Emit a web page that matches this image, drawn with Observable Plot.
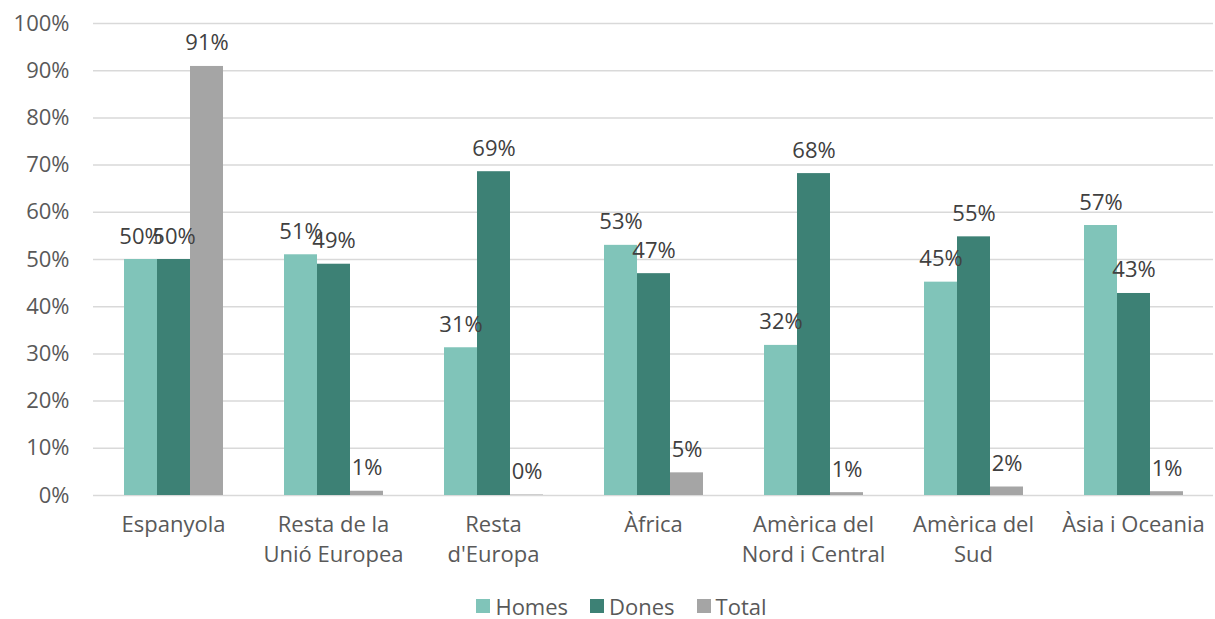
<!DOCTYPE html>
<html>
<head>
<meta charset="utf-8">
<script src="https://cdn.jsdelivr.net/npm/d3@7"></script>
<script src="https://cdn.jsdelivr.net/npm/@observablehq/plot@0.6"></script>
<style>
  html, body { margin: 0; padding: 0; background: #fff; }
  body { width: 1215px; height: 619px; overflow: hidden; font-family: "Open Sans", Lato, sans-serif; }
  #legend { display: flex; justify-content: center; gap: 22px; font-size: 22px; color: #595959; margin-top: 6px; padding-left: 28px; }
  #legend span.item { display: inline-flex; align-items: center; }
  #legend span.sw { display: inline-block; width: 14px; height: 14px; margin-right: 5px; }
</style>
</head>
<body>
<div id="chart"></div>
<div id="legend"></div>
<script>
const categories = ["Espanyola", "Resta de la\nUnió Europea", "Resta\nd'Europa", "Àfrica", "Amèrica del\nNord i Central", "Amèrica del\nSud", "Àsia i Oceania"];
const series = ["Homes", "Dones", "Total"];
const homes = [50.0, 51.0, 31.3, 53.0, 31.8, 45.2, 57.2];
const dones = [50.0, 49.0, 68.6, 47.0, 68.2, 54.8, 42.8];
const total = [90.9, 0.9, 0.1, 4.8, 0.6, 1.8, 0.8];
const colors = ["#80c4b9", "#3d8175", "#a5a5a5"];
const yTicks = [0, 10, 20, 30, 40, 50, 60, 70, 80, 90, 100];

const values = [homes, dones, total];
const data = [];
categories.forEach((c, i) => {
  series.forEach((s, j) => data.push({category: c, series: s, value: values[j][i]}));
});

const chart = Plot.plot({
  width: 1215,
  height: 585,
  marginLeft: 92,
  marginRight: 2,
  marginTop: 23,
  marginBottom: 90,
  style: {fontFamily: "'Open Sans', Lato, sans-serif", background: "#fff"},
  fx: {domain: categories, paddingInner: 0, paddingOuter: 0, label: null},
  x: {domain: series, paddingInner: 0, paddingOuter: 0.9, axis: null},
  y: {domain: [0, 100], label: null},
  color: {domain: series, range: colors},
  marks: [
    Plot.ruleY(yTicks, {stroke: "#d9d9d9", strokeWidth: 1.5}),
    Plot.axisY(yTicks, {tickSize: 0, tickPadding: 24, fontSize: 22, fill: "#595959", tickFormat: d => d + "%", label: null}),
    Plot.axisFx({anchor: "bottom", tickSize: 0, tickPadding: 15, fontSize: 22, fill: "#595959", lineHeight: 1.36, label: null}),
    Plot.barY(data, {fx: "category", x: "series", y: "value", fill: "series", inset: 0}),
    Plot.text(data, {fx: "category", x: "series", y: "value", text: d => Math.round(d.value) + "%", lineAnchor: "bottom", dy: -16, fontSize: 22, fill: "#404040"})
  ]
});
document.getElementById("chart").appendChild(chart);

const legend = document.getElementById("legend");
series.forEach((s, j) => {
  const item = document.createElement("span");
  item.className = "item";
  const sw = document.createElement("span");
  sw.className = "sw";
  sw.style.background = colors[j];
  item.appendChild(sw);
  item.appendChild(document.createTextNode(s));
  legend.appendChild(item);
});
</script>
</body>
</html>
